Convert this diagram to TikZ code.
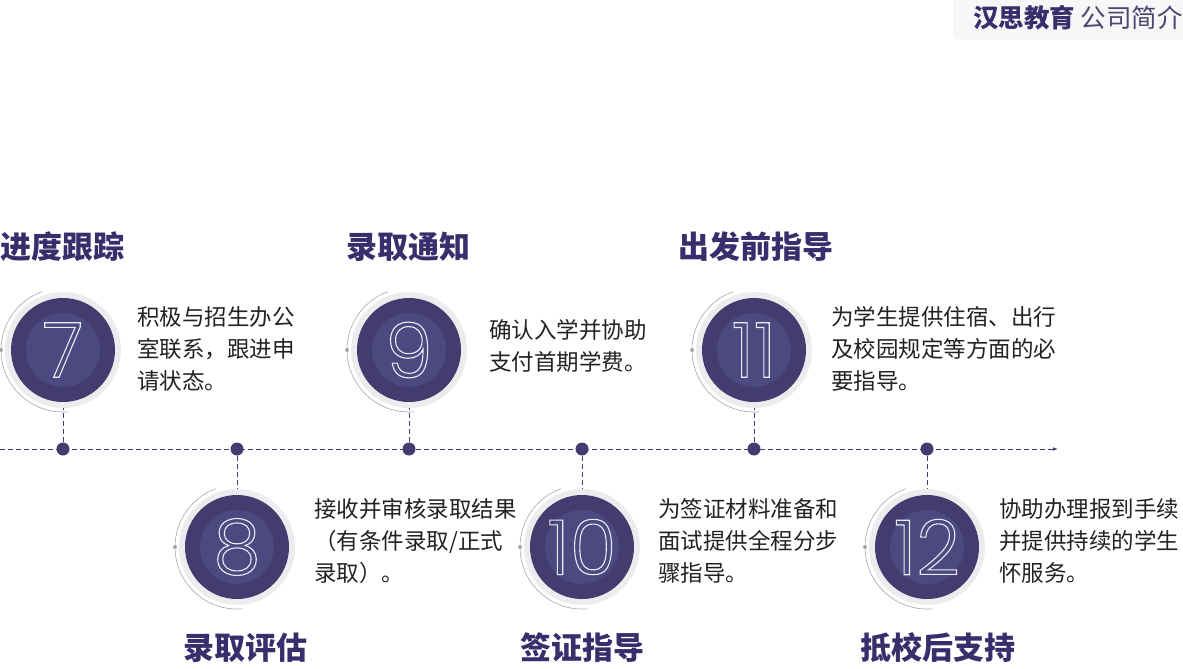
\documentclass[tikz,border=0pt]{standalone}
\usepackage{fontspec}
\setmainfont{Noto Sans CJK SC}
\newfontfamily\numf{Poppins Light}
\usetikzlibrary{arrows.meta,calc}
\definecolor{dp}{HTML}{433C6E}
\definecolor{inn}{HTML}{4E4880}
\definecolor{tt}{HTML}{3A2D6C}
\definecolor{ring}{HTML}{ECECEE}
\definecolor{tx}{HTML}{222222}
\tikzset{
 dot/.style={circle,fill=dp,inner sep=0,minimum size=13pt},
 ttl/.style={font=\bfseries\fontsize{31}{34}\selectfont,text=tt,inner sep=0},
 desc/.style={font=\fontsize{22.5}{32}\selectfont,text=tx,align=left,anchor=north west,inner sep=0},
 vline/.style={dp,line width=1pt,dash pattern=on 5pt off 3pt},
 num/.style={font=\numf\fontsize{76}{76}\selectfont,text=white,inner sep=0}
}
\newcommand\outl[1]{\special{pdf:literal 1 Tr 1.1 w 0.92 0.92 0.96 RG}#1\special{pdf:literal 0 Tr}}
\newcommand\badge[3]{% name, pos, number
 \fill[ring] (#2) circle (58);
 \fill[dp] (#2) circle (52);
 \fill[inn] (#2) circle (37);
 \draw[gray!70,line width=0.6pt] ([shift={(85:62)}]#2) arc (85:250:62);
 \fill[gray!70] ([shift={(180:62)}]#2) circle (2);
 \node[num] (#1) at (#2) {\outl{#3}};
}
\begin{document}
\begin{tikzpicture}[x=1pt,y=-1pt]
\useasboundingbox (0,0) rectangle (1183,669);
% header
\fill[gray!6,rounded corners=6] (953,-10) rectangle (1195,40);
\node[anchor=east,inner sep=0,font=\fontsize{25.5}{26}\selectfont] (hd) at (1183,18) {\textbf{\textcolor{tt}{汉思教育}} \textcolor{dp!85!gray}{公司简介}};
% timeline
\draw[vline,-{Latex[length=5pt]}] (0,449) -- (1058,449);
\foreach \n/\x in {d7/63,d8/237,d9/409,d10/582,d11/754,d12/927}
 \node[dot] (\n) at (\x,449) {};
\badge{c7}{63,350}{7}
\badge{c9}{409,350}{9}
\badge{c11}{754,350}{11}
\badge{c8}{237,547}{8}
\badge{c10}{582,547}{10}
\badge{c12}{927,547}{12}
\foreach \a/\b in {d7/c7,d9/c9,d11/c11,d8/c8,d10/c10,d12/c12}
 \draw[vline] (\a) -- ($(\b)!58pt!(\a)$);
% titles
\node[ttl] (t7) at (62,247) {进度跟踪};
\node[ttl] (t9) at (408,247) {录取通知};
\node[ttl] (t11) at (756,247) {出发前指导};
\node[ttl] (t8) at (245,648) {录取评估};
\node[ttl] (t10) at (582,648) {签证指导};
\node[ttl] (t12) at (938,648) {抵校后支持};
% descriptions
\node[desc] (e7) at (137,306) {积极与招生办公\\室联系，跟进申\\请状态。};
\node[desc] (e9) at (489,319) {确认入学并协助\\支付首期学费。};
\node[desc] (e11) at (831,306) {为学生提供住宿、出行\\及校园规定等方面的必\\要指导。};
\node[desc] (e8) at (314,498) {接收并审核录取结果\\（有条件录取/正式\\录取）。};
\node[desc] (e10) at (658,498) {为签证材料准备和\\面试提供全程分步\\骤指导。};
\node[desc] (e12) at (999,498) {协助办理报到手续\\并提供持续的学生\\怀服务。};
\end{tikzpicture}
\end{document}
